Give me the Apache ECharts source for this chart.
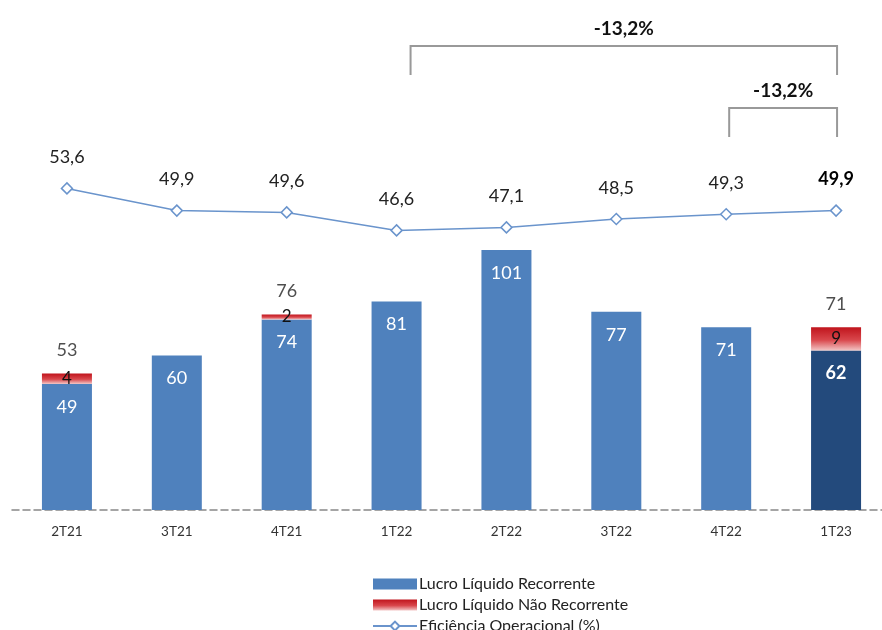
<!DOCTYPE html>
<html><head><meta charset="utf-8">
<script src="https://cdn.jsdelivr.net/npm/echarts@6/dist/echarts.min.js"></script>
<style>html,body{margin:0;padding:0;background:#fff;overflow:hidden;width:882px;height:630px}#c{width:891px;height:630px}</style>
</head><body><div id="c"></div>
<script>
var categories = ['2T21','3T21','4T21','1T22','2T22','3T22','4T22','1T23'];
var recorrente = [49, 60, 74, 81, 101, 77, 71, 62];
var naoRecorrente = [4, null, 2, null, null, null, null, 9];
var totais = [53, null, 76, null, null, null, null, 71];
var eficiencia = [53.6, 49.9, 49.6, 46.6, 47.1, 48.5, 49.3, 49.9];
var variacoes = ['-13,2%', '-13,2%'];

var FONT = 'Lato, "Noto Sans", sans-serif';
var chart = echarts.init(document.getElementById('c'), null, {renderer: 'canvas'});
var fmt = function (v) { return String(v).replace('.', ','); };

var recData = recorrente.map(function (v, i) {
  return i === recorrente.length - 1
    ? {value: v, itemStyle: {color: '#234A7C'}, label: {fontWeight: 'bold'}}
    : v;
});
var lineData = eficiencia.map(function (v, i) {
  return i === eficiencia.length - 1 ? {value: v, label: {fontWeight: 'bold', color: '#000'}} : v;
});

chart.setOption({
  animation: false,
  grid: {left: 12, top: 30, right: 0, height: 480, containLabel: false},
  legend: {
    data: [
      {name: 'Lucro Líquido Recorrente', icon: 'rect'},
      {name: 'Lucro Líquido Não Recorrente', icon: 'rect'},
      {name: 'Eficiência Operacional (%)'}
    ],
    orient: 'vertical', left: 367, top: 570, height: 120, itemGap: 3, itemWidth: 44, itemHeight: 11,
    textStyle: {fontFamily: FONT, fontSize: 16, color: '#222', lineHeight: 18, padding: [0, 0, 0, -3]}
  },
  xAxis: {
    type: 'category', data: categories,
    axisLine: {lineStyle: {color: '#888', type: [7, 4], width: 1.5}},
    axisTick: {show: false},
    axisLabel: {fontFamily: FONT, fontSize: 13.5, color: '#333', margin: 15}
  },
  yAxis: [
    {type: 'value', min: 0, max: 186.5, show: false, splitLine: {show: false}},
    {type: 'value', min: 0, max: 80, show: false, splitLine: {show: false}}
  ],
  series: [
    {
      name: 'Lucro Líquido Recorrente', type: 'bar', stack: 'l', barWidth: 50,
      data: recData, itemStyle: {color: '#4F81BD'},
      label: {show: true, position: 'insideTop', distance: 14, color: '#fff',
        fontFamily: FONT, fontSize: 18}
    },
    {
      name: 'Lucro Líquido Não Recorrente', type: 'bar', stack: 'l', barWidth: 50,
      data: naoRecorrente,
      itemStyle: {color: new echarts.graphic.LinearGradient(0, 0, 0, 1, [
        {offset: 0, color: '#C0141C'}, {offset: 0.55, color: '#D9474C'}, {offset: 1, color: '#F2C4C4'}])},
      label: {show: true, position: 'inside', color: '#111', fontFamily: FONT, fontSize: 17}
    },
    {
      name: 'Total', type: 'scatter', data: totais, symbolSize: 0,
      label: {show: true, position: 'top', distance: 14, color: '#222',
        fontFamily: FONT, fontSize: 18}
    },
    {
      name: 'Eficiência Operacional (%)', type: 'line', yAxisIndex: 1, data: lineData,
      symbol: 'diamond', symbolSize: 11, showAllSymbol: true,
      lineStyle: {color: '#6A94CC', width: 1.5},
      itemStyle: {color: '#fff', borderColor: '#6A94CC', borderWidth: 1.5},
      label: {show: true, position: 'top', distance: 16, color: '#222',
        fontFamily: FONT, fontSize: 18, formatter: function (p) { return fmt(p.value); }}
    }
  ]
});

// Bracket annotations (variation markers)
function px(i) { return chart.convertToPixel({xAxisIndex: 0}, i); }
var x1T22 = px(3), x4T22 = px(6), x1T23 = px(7);
var brk = {stroke: '#999', lineWidth: 2, fill: null};
function bracket(xa, xb, yTop, yBot, text) {
  return [
    {type: 'polyline', shape: {points: [[xa, yBot], [xa, yTop], [xb, yTop], [xb, yBot]]}, style: brk},
    {type: 'text', x: (xa + xb) / 2, y: yTop - 17,
      style: {text: text, fill: '#111', font: 'bold 19px ' + FONT, textAlign: 'center', textVerticalAlign: 'middle'}}
  ];
}
chart.setOption({
  graphic: [].concat(
    bracket(x1T22 + 14, x1T23 + 1, 46, 75, variacoes[0]),
    bracket(x4T22 + 3, x1T23 + 1, 108, 137, variacoes[1])
  )
});
</script>
</body></html>
